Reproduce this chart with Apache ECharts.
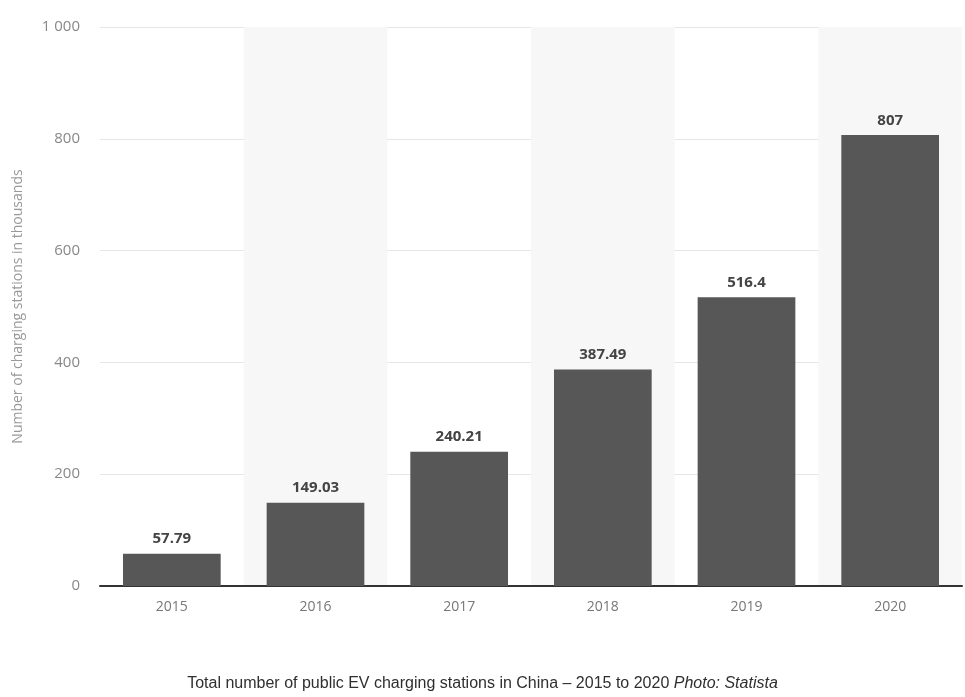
<!DOCTYPE html>
<html><head><meta charset="utf-8">
<script src="https://cdn.jsdelivr.net/npm/echarts@6/dist/echarts.min.js"></script>
<style>html,body{margin:0;padding:0;background:#fff}#c{width:965px;height:697px}</style>
</head><body><div id="c"></div>
<script>
const categories = ['2015','2016','2017','2018','2019','2020'];
const values = [57.79, 149.03, 240.21, 387.49, 516.4, 807];
const yAxisName = 'Number of charging stations in thousands';
const caption = 'Total number of public EV charging stations in China – 2015 to 2020 ';
const captionItalic = 'Photo: Statista';

const chart = echarts.init(document.getElementById('c'));
chart.setOption({
  backgroundColor: '#ffffff',
  animation: false,
  title: {
    text: '{n|' + caption + '}{i|' + captionItalic + '}',
    left: 'center', top: 671,
    textStyle: { fontWeight: 'normal', rich: {
      n: { fontFamily: 'Liberation Sans', fontSize: 16, color: '#2f2f2f', fontWeight: 'normal' },
      i: { fontFamily: 'Liberation Sans', fontSize: 16, color: '#2f2f2f', fontStyle: 'italic', fontWeight: 'normal' }
    } }
  },
  grid: { left: 100, right: 3, top: 27, bottom: 111 },
  xAxis: {
    type: 'category', data: categories,
    axisLine: { lineStyle: { color: '#333', width: 2 } },
    axisTick: { show: false },
    axisLabel: { color: '#777', fontSize: 14, margin: 14, fontFamily: 'Open Sans' },
    splitArea: { show: true, areaStyle: { color: ['rgba(0,0,0,0)', '#f7f7f7'] } }
  },
  yAxis: {
    type: 'value', min: 0, max: 1000, interval: 200,
    name: yAxisName, nameLocation: 'middle', nameGap: 75,
    nameTextStyle: { color: '#999', fontSize: 14, fontFamily: 'Open Sans' },
    axisLabel: { color: '#888', fontSize: 15, margin: 20, fontFamily: 'Open Sans',
      formatter: v => v >= 1000 ? String(v).replace(/\B(?=(\d{3})+(?!\d))/g, ' ') : String(v) },
    splitLine: { lineStyle: { color: '#e6e6e6', width: 1 } },
    axisLine: { show: false }, axisTick: { show: false }
  },
  series: [{
    type: 'bar', data: values, barWidth: '68%',
    itemStyle: { color: '#575757' },
    label: { show: true, position: 'top', distance: 7, color: '#444', fontWeight: 'bold',
      fontSize: 15, fontFamily: 'Open Sans' }
  }]
});
</script></body></html>
